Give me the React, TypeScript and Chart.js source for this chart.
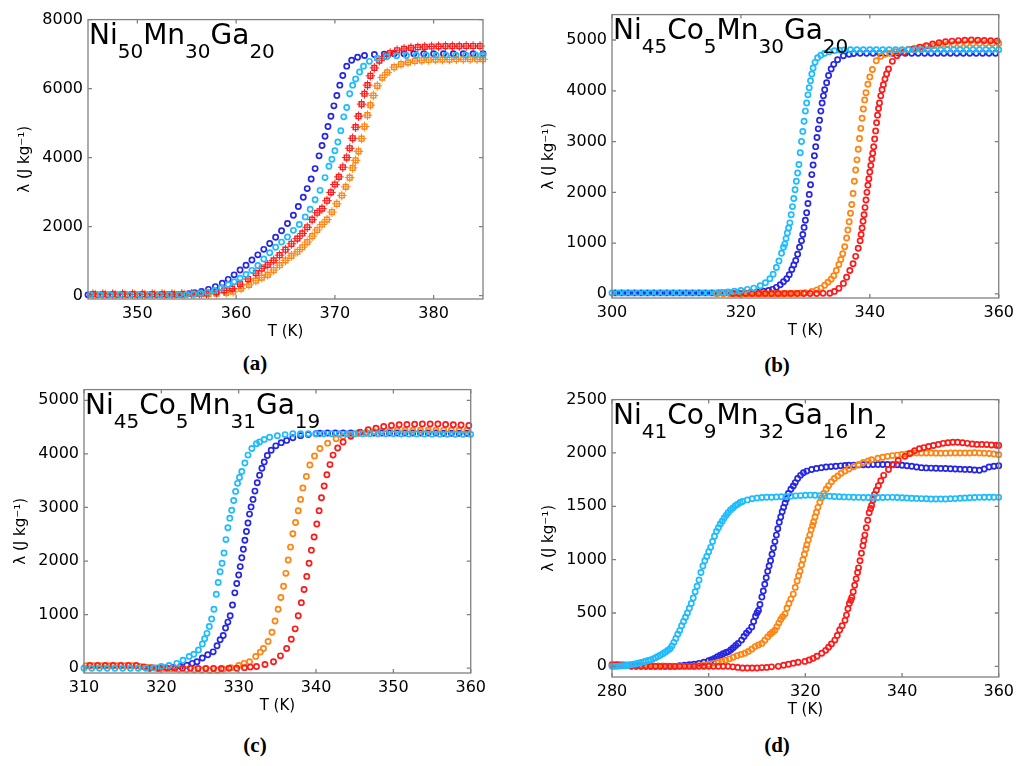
import { useEffect, useRef } from "react";
import { Chart, registerables } from "chart.js";
import type { Plugin } from "chart.js";

Chart.register(...registerables);

type Pt = [number, number];

const RED = "#ff1a1a";
const ORANGE = "#ff8412";
const BLUE = "#2626e6";
const CYAN = "#1ebcff";

// (a) Ni50Mn30Ga20, T in K, lambda in J/kg
const aXTicks = [350, 360, 370, 380];
const aYTicks = [0, 2000, 4000, 6000, 8000];
const aFormula: [string, string][] = [["Ni", "50"], ["Mn", "30"], ["Ga", "20"]];
const aBlue: Pt[] = [
  [345, 20], [346, 20], [347, 20], [348, 20], [349, 20], [350, 20], [351, 20], [352, 20], [353, 22], [354, 28],
  [354.6, 38], [355.2, 55], [355.8, 80], [356.5, 120], [357.2, 180], [357.9, 260], [358.6, 360], [359.2, 470],
  [359.8, 600], [360.4, 740], [361, 880], [361.6, 1030], [362.2, 1180], [362.8, 1340], [363.4, 1510], [364, 1690],
  [364.6, 1880], [365.2, 2090], [365.8, 2330], [366.3, 2580], [366.8, 2850], [367.2, 3100], [367.6, 3380], [368, 3680],
  [368.4, 4050], [368.7, 4350], [369, 4620], [369.3, 4900], [369.6, 5200], [369.9, 5500], [370.2, 5800], [370.5, 6100],
  [370.8, 6380], [371.2, 6650], [371.7, 6820], [372.3, 6910], [373, 6960], [374, 6990], [375, 7000], [376, 7010],
  [377, 7010], [378, 7010], [379, 7010], [380, 7010], [381, 7010], [382, 7010], [383, 7010], [384, 7010], [385, 7010],
];
const aCyan: Pt[] = [
  [345.25, 20], [346.25, 20], [347.25, 20], [348.25, 20], [349.25, 20], [350.25, 20], [351.25, 20], [352.25, 20],
  [353.25, 22], [354.25, 26], [355, 30], [355.7, 45], [356.4, 65], [357.1, 100], [357.8, 150], [358.5, 230],
  [359.2, 320], [359.8, 400], [360.4, 500], [361, 610], [361.6, 730], [362.2, 870], [362.8, 1060], [363.4, 1240],
  [364, 1400], [364.6, 1550], [365.2, 1700], [365.8, 1890], [366.4, 2060], [367, 2280], [367.5, 2500], [368, 2780],
  [368.5, 3050], [369, 3420], [369.4, 3750], [369.7, 3950], [370, 4200], [370.3, 4450], [370.6, 4780], [370.9, 5180],
  [371.2, 5450], [371.5, 5850], [371.8, 6100], [372.1, 6280], [372.5, 6480], [372.9, 6650], [373.5, 6790], [374.3, 6880],
  [375.25, 6920], [376.25, 6950], [377.25, 6960], [378.25, 6970], [379.25, 6970], [380.25, 6970], [381.25, 6970],
  [382.25, 6970], [383.25, 6975], [384.25, 6975], [385, 6975],
];
const aRed: Pt[] = [
  [345.5, 40], [346.5, 40], [347.5, 40], [348.5, 40], [349.5, 40], [350.5, 40], [351.5, 40], [352.5, 40], [353.5, 42],
  [354.5, 45], [355.5, 50], [356.3, 55], [357, 60], [358, 100], [358.8, 150], [359.6, 200], [360.4, 330], [361.2, 480],
  [362, 650], [362.6, 780], [363.2, 890], [363.8, 1020], [364.4, 1170], [365, 1330], [365.6, 1500], [366.2, 1650],
  [366.7, 1800], [367.2, 1980], [367.7, 2200], [368.2, 2400], [368.7, 2520], [369.2, 2750], [369.6, 2990], [370, 3220],
  [370.4, 3440], [370.8, 3720], [371.2, 4000], [371.5, 4270], [371.8, 4560], [372.1, 4880], [372.4, 5200], [372.7, 5550],
  [373, 5850], [373.3, 6100], [373.6, 6370], [374, 6600], [374.5, 6810], [375, 6930], [375.6, 7030], [376.3, 7110],
  [377, 7150], [377.7, 7180], [378.4, 7200], [379.1, 7210], [379.8, 7220], [380.5, 7225], [381.2, 7230], [381.9, 7230],
  [382.6, 7230], [383.3, 7235], [384, 7235], [384.7, 7235],
];
const aOrange: Pt[] = [
  [345.75, 30], [346.75, 30], [347.75, 30], [348.75, 30], [349.75, 30], [350.75, 30], [351.75, 30], [352.75, 30],
  [353.75, 30], [354.75, 32], [355.75, 35], [356.5, 38], [357.2, 42], [358, 55], [359, 80], [359.7, 110], [360.5, 200],
  [361.3, 310], [362, 430], [362.6, 520], [363.2, 600], [363.8, 740], [364.4, 880], [365, 1020], [365.6, 1150],
  [366.2, 1270], [366.7, 1400], [367.2, 1550], [367.7, 1720], [368.2, 1900], [368.7, 2060], [369.2, 2200], [369.7, 2420],
  [370.2, 2660], [370.7, 2900], [371.1, 3150], [371.5, 3420], [371.8, 3700], [372.1, 3920], [372.4, 4180], [372.7, 4550],
  [373, 4900], [373.3, 5230], [373.6, 5520], [373.9, 5800], [374.3, 6080], [374.8, 6320], [375.3, 6470], [376, 6620],
  [376.7, 6710], [377.4, 6760], [378.1, 6800], [378.8, 6820], [379.5, 6830], [380.2, 6840], [380.9, 6840], [381.6, 6840],
  [382.3, 6850], [383, 6850], [383.7, 6850], [384.4, 6850], [385, 6850],
];

// (b) Ni45Co5Mn30Ga20
const bXTicks = [300, 320, 340, 360];
const bYTicks = [0, 1000, 2000, 3000, 4000, 5000];
const bFormula: [string, string][] = [["Ni", "45"], ["Co", "5"], ["Mn", "30"], ["Ga", "20"]];
const bCyan: Pt[] = [
  [300, 20], [301, 20], [302, 20], [303, 20], [304, 20], [305, 20], [306, 20], [307, 20], [308, 20], [309, 20],
  [310, 20], [311, 20], [312, 20], [313, 20], [314, 20], [315, 20], [316, 20], [317, 30], [318, 40], [319, 55],
  [320, 70], [321, 90], [322, 115], [323, 160], [323.8, 220], [324.5, 300], [325, 390], [325.5, 520], [325.9, 650],
  [326.3, 800], [326.6, 920], [326.8, 981], [327, 1090], [327.2, 1200], [327.4, 1300], [327.6, 1400], [327.8, 1560],
  [328, 1720], [328.2, 1880], [328.4, 2050], [328.6, 2220], [328.8, 2380], [329, 2550], [329.2, 2780], [329.4, 3000],
  [329.6, 3200], [329.8, 3400], [330, 3600], [330.2, 3760], [330.4, 3920], [330.6, 4060], [330.8, 4200], [331, 4330],
  [331.2, 4450], [331.5, 4560], [331.9, 4650], [332.4, 4700], [333, 4740], [333.7, 4770], [334.5, 4790], [335.3, 4800],
  [336, 4805], [337, 4810], [338, 4810], [339, 4810], [340, 4810], [341, 4810], [342, 4810], [343, 4810], [344, 4810],
  [345, 4810], [346, 4810], [347, 4810], [348, 4810], [349, 4810], [350, 4810], [351, 4810], [352, 4810], [353, 4810],
  [354, 4810], [355, 4810], [356, 4810], [357, 4810], [358, 4810], [359, 4810], [360, 4810],
];
const bBlue: Pt[] = [
  [300.5, 20], [301.5, 20], [302.5, 20], [303.5, 20], [304.5, 20], [305.5, 20], [306.5, 20], [307.5, 20], [308.5, 20],
  [309.5, 20], [310.5, 20], [311.5, 20], [312.5, 20], [313.5, 20], [314.5, 20], [315.5, 20], [316.5, 20], [317.5, 20],
  [318.5, 20], [319.5, 20], [320.5, 25], [321.5, 30], [322.5, 40], [323.5, 55], [324.3, 70], [324.9, 90], [325.5, 130],
  [326.1, 180], [326.6, 240], [327.1, 300], [327.5, 380], [327.9, 480], [328.2, 570], [328.5, 660], [328.8, 780],
  [329.1, 920], [329.4, 1045], [329.6, 1170], [329.8, 1310], [330, 1450], [330.2, 1600], [330.4, 1780], [330.6, 1960],
  [330.8, 2150], [331, 2350], [331.2, 2540], [331.4, 2720], [331.6, 2900], [331.8, 3080], [332, 3250], [332.2, 3420],
  [332.4, 3600], [332.6, 3760], [332.8, 3900], [333, 4020], [333.3, 4160], [333.6, 4300], [334, 4430], [334.4, 4520],
  [335, 4610], [335.9, 4690], [336.8, 4720], [337.5, 4735], [338.5, 4740], [339.5, 4740], [340.5, 4740], [341.5, 4740],
  [342.5, 4740], [343.5, 4740], [344.5, 4740], [345.5, 4740], [346.5, 4740], [347.5, 4740], [348.5, 4740], [349.5, 4740],
  [350.5, 4740], [351.5, 4740], [352.5, 4740], [353.5, 4740], [354.5, 4740], [355.5, 4740], [356.5, 4740], [357.5, 4740],
  [358.5, 4740], [359.5, 4740],
];
const bOrange: Pt[] = [
  [316.25, 5], [317.25, 5], [318.25, 5], [319.25, 5], [320.25, 5], [321.25, 5], [322.25, 5], [323.25, 5], [324.25, 5],
  [325.25, 5], [326.25, 5], [327.25, 8], [328.25, 12], [329.25, 18], [330, 25], [331, 50], [331.8, 80], [332.4, 115],
  [333, 170], [333.5, 230], [334, 290], [334.4, 360], [334.8, 460], [335.2, 580], [335.5, 680], [335.8, 790],
  [336.1, 930], [336.4, 1100], [336.6, 1260], [336.8, 1420], [337, 1590], [337.2, 1760], [337.4, 1980], [337.6, 2220],
  [337.8, 2440], [338, 2640], [338.2, 2850], [338.4, 3060], [338.6, 3260], [338.8, 3460], [339, 3640], [339.2, 3820],
  [339.4, 3960], [339.7, 4130], [340, 4270], [340.4, 4420], [341, 4590], [341.7, 4680], [342.4, 4720], [343.1, 4740],
  [344, 4770], [345, 4800], [346, 4820], [347, 4840], [348, 4860], [349, 4880], [350, 4890], [351, 4900], [352, 4910],
  [353, 4915], [354, 4920], [355, 4925], [356, 4930], [357, 4930], [358, 4930], [359, 4930], [360, 4930],
];
const bRed: Pt[] = [
  [318.75, 10], [319.75, 10], [320.75, 10], [321.75, 10], [322.75, 10], [323.75, 10], [324.75, 10], [325.75, 10],
  [326.75, 10], [327.75, 10], [328.75, 10], [329.75, 10], [330.75, 10], [331.75, 10], [332.75, 12], [333.8, 15],
  [334.5, 50], [335.2, 110], [335.9, 207], [336.4, 330], [336.9, 460], [337.4, 594], [337.8, 740], [338.2, 900],
  [338.5, 1045], [338.65, 1170], [338.8, 1300], [338.95, 1430], [339.1, 1561], [339.25, 1700], [339.4, 1850],
  [339.55, 2000], [339.7, 2142], [339.85, 2270], [340, 2400], [340.15, 2530], [340.3, 2657], [340.45, 2770],
  [340.6, 2900], [340.75, 3050], [340.9, 3210], [341.05, 3370], [341.2, 3520], [341.35, 3650], [341.5, 3760],
  [341.7, 3900], [341.9, 4020], [342.1, 4120], [342.35, 4230], [342.6, 4330], [342.9, 4431], [343.5, 4580],
  [344.2, 4689], [345.3, 4760], [346.7, 4818], [347.75, 4860], [348.75, 4890], [349.75, 4920], [350.75, 4945],
  [351.75, 4965], [352.75, 4978], [353.75, 4988], [354.75, 4995], [355.75, 5000], [356.75, 4995], [357.75, 4990],
  [358.75, 4985], [359.75, 4980],
];

// (c) Ni45Co5Mn31Ga19
const cXTicks = [310, 320, 330, 340, 350, 360];
const cYTicks = [0, 1000, 2000, 3000, 4000, 5000];
const cFormula: [string, string][] = [["Ni", "45"], ["Co", "5"], ["Mn", "31"], ["Ga", "19"]];
const cCyan: Pt[] = [
  [310, 0], [311, 0], [312, 0], [313, 0], [314, 0], [315, 0], [316, 0], [317, 0], [318, 0], [319, 5], [320, 30],
  [321, 50], [322, 90], [322.8, 150], [323.6, 220], [324.2, 260], [324.8, 340], [325.3, 450], [325.6, 551],
  [325.9, 650], [326.2, 780], [326.5, 918], [326.8, 1100], [327.1, 1380], [327.35, 1600], [327.6, 1800],
  [327.85, 1960], [328.1, 2150], [328.35, 2400], [328.6, 2620], [328.85, 2800], [329.1, 2950], [329.35, 3130],
  [329.6, 3300], [329.85, 3450], [330.1, 3560], [330.4, 3672], [330.8, 3830], [331.2, 3977], [331.7, 4100],
  [332.3, 4190], [332.7, 4223], [333.3, 4270], [334, 4310], [335, 4340], [336, 4360], [337, 4375], [338, 4375],
  [339, 4375], [340, 4375], [341, 4375], [342, 4375], [343, 4375], [344, 4375], [345, 4375], [346, 4375], [347, 4375],
  [348, 4375], [349, 4375], [350, 4375], [351, 4372], [352, 4370], [353, 4370], [354, 4370], [355, 4368], [356, 4368],
  [357, 4366], [358, 4366], [359, 4365], [360, 4365],
];
const cBlue: Pt[] = [
  [318.5, 0], [319.5, 0], [320.5, 5], [321.5, 15], [322.5, 30], [323.3, 55], [324, 90], [324.6, 121], [325.3, 190],
  [326, 250], [326.7, 305], [327.2, 420], [327.6, 530], [328, 611], [328.3, 750], [328.6, 860], [328.9, 979],
  [329.2, 1180], [329.5, 1406], [329.75, 1580], [330, 1740], [330.2, 1896], [330.4, 2060], [330.6, 2220],
  [330.8, 2387], [331, 2550], [331.2, 2710], [331.4, 2876], [331.6, 3010], [331.85, 3150], [332.1, 3305],
  [332.4, 3460], [332.7, 3600], [333, 3733], [333.3, 3850], [333.7, 3970], [334.2, 4069], [334.8, 4150],
  [335.5, 4210], [336.2, 4252], [337, 4300], [338, 4340], [339, 4360], [340, 4375], [340.5, 4385], [341.5, 4390],
  [342.5, 4390], [343.5, 4390], [344.5, 4390], [345.5, 4390], [346.5, 4390], [347.5, 4390], [348.5, 4390],
  [349.5, 4390], [350.5, 4390], [351.5, 4390], [352.5, 4390], [353.5, 4390], [354.5, 4390], [355.5, 4390],
  [356.5, 4385], [357.5, 4385], [358.5, 4385], [359.5, 4385],
];
const cOrange: Pt[] = [
  [310.25, 45], [311.25, 45], [312.25, 45], [313.25, 45], [314.25, 45], [315.25, 45], [316.25, 45], [317.25, 30],
  [318.25, 15], [319.25, 5], [320.25, 0], [321.25, -10], [322.25, -20], [323.25, -25], [324.25, -30], [325.25, -35],
  [326.25, -40], [327.25, -40], [328, -20], [329, 10], [330, 50], [330.7, 90], [331.4, 121], [332.2, 220],
  [332.8, 300], [333.2, 367], [333.8, 500], [334.3, 672], [334.7, 880], [335.1, 1101], [335.45, 1320], [335.8, 1529],
  [336.1, 1770], [336.4, 2019], [336.7, 2260], [337, 2508], [337.35, 2720], [337.7, 2938], [338, 3150], [338.3, 3365],
  [338.75, 3580], [339.2, 3793], [339.8, 3960], [340.5, 4100], [341.5, 4200], [342.6, 4283], [343.5, 4330],
  [344.5, 4360], [345.5, 4385], [346.5, 4400], [347.5, 4415], [348.5, 4425], [349.5, 4430], [350.5, 4440],
  [351.5, 4440], [352.5, 4440], [353.5, 4440], [354.5, 4440], [355.5, 4440], [356.5, 4440], [357.5, 4440],
  [358.5, 4440], [359.5, 4440],
];
const cRed: Pt[] = [
  [310.75, 50], [311.75, 50], [312.75, 50], [313.75, 50], [314.75, 50], [315.75, 50], [316.75, 50], [317.75, 25],
  [318.75, 10], [319.75, 0], [320.75, 0], [321.75, 0], [322.75, 0], [323.75, 0], [324.75, -5], [325.75, -5],
  [326.75, -5], [327.75, -5], [328.75, 0], [329.75, 0], [330.75, 10], [331.5, 20], [332.3, 30], [333.4, 70],
  [334.5, 121], [335.4, 230], [336.2, 367], [336.8, 540], [337.3, 734], [337.7, 980], [338.1, 1223], [338.45, 1470],
  [338.8, 1713], [339.1, 1960], [339.4, 2203], [339.75, 2450], [340.1, 2692], [340.4, 2940], [340.7, 3182],
  [341.05, 3400], [341.4, 3610], [341.8, 3800], [342.2, 3977], [342.8, 4110], [343.5, 4223], [344.5, 4330],
  [345.7, 4406], [346.75, 4450], [347.75, 4480], [348.75, 4510], [349.75, 4530], [350.75, 4545], [351.75, 4550],
  [352.75, 4555], [353.75, 4560], [354.75, 4560], [355.75, 4560], [356.75, 4550], [357.75, 4545], [358.75, 4540],
  [359.75, 4530],
];

// (d) Ni41Co9Mn32Ga16In2
const dXTicks = [280, 300, 320, 340, 360];
const dYTicks = [0, 500, 1000, 1500, 2000, 2500];
const dFormula: [string, string][] = [["Ni", "41"], ["Co", "9"], ["Mn", "32"], ["Ga", "16"], ["In", "2"]];
const dCyan: Pt[] = [
  [280, 0], [280.5, 0], [281, 0], [281.5, 2], [282, 4], [282.5, 6], [283, 8], [283.5, 12], [284, 16], [284.5, 20],
  [285, 25], [285.5, 30], [286, 36], [286.5, 42], [287, 48], [287.5, 54], [288, 60], [288.5, 70], [289, 80],
  [289.5, 92], [290, 105], [290.5, 118], [291, 132], [291.5, 148], [292, 165], [292.4, 190], [292.8, 225],
  [293.2, 262], [293.6, 300], [294, 335], [294.4, 380], [294.8, 420], [295.2, 460], [295.6, 500], [296, 545],
  [296.4, 590], [296.8, 640], [297.2, 700], [297.6, 750], [298, 810], [298.4, 880], [298.8, 940], [299.2, 990],
  [299.6, 1030], [300, 1075], [300.4, 1115], [300.8, 1170], [301.2, 1220], [301.6, 1265], [302, 1300], [302.4, 1335],
  [302.8, 1360], [303.2, 1390], [303.6, 1415], [304, 1440], [304.5, 1465], [305, 1485], [305.5, 1505], [306, 1520],
  [306.5, 1535], [307, 1545], [308, 1560], [309, 1570], [310, 1578], [311, 1582], [312, 1585], [313, 1585],
  [314, 1588], [315, 1590], [316, 1592], [317, 1595], [318, 1598], [319, 1600], [320, 1603], [321, 1605], [322, 1603],
  [323, 1600], [324, 1598], [325, 1595], [326, 1592], [327, 1590], [328, 1588], [329, 1586], [330, 1585], [331, 1584],
  [332, 1583], [333, 1582], [334, 1582], [335, 1582], [336, 1583], [337, 1584], [338, 1584], [339, 1582], [340, 1580],
  [341, 1578], [342, 1576], [343, 1574], [344, 1572], [345, 1570], [346, 1568], [347, 1568], [348, 1568], [349, 1568],
  [350, 1570], [351, 1572], [352, 1575], [353, 1578], [354, 1580], [355, 1582], [356, 1584], [357, 1585], [358, 1585],
  [359, 1585], [360, 1584],
];
const dBlue: Pt[] = [
  [284, 0], [285, 0], [286, 0], [287, 0], [288, 0], [289, 0], [290, 0], [291, 0], [292, 0], [293, 0], [294, 5],
  [295, 10], [296, 15], [297, 20], [298, 28], [299, 38], [300, 52], [300.6, 62], [301.2, 75], [301.8, 90], [302.4, 105],
  [303, 118], [303.6, 130], [304.1, 138], [304.6, 155], [305.1, 175], [305.6, 195], [306.1, 215], [306.8, 246],
  [307.3, 280], [307.8, 310], [308.3, 335], [308.9, 369], [309.3, 420], [309.7, 470], [310, 500], [310.3, 523],
  [310.6, 580], [311, 650], [311.3, 707], [311.6, 770], [311.9, 830], [312.2, 890], [312.5, 940], [312.8, 990],
  [313.1, 1050], [313.4, 1110], [313.7, 1169], [314, 1230], [314.3, 1290], [314.6, 1350], [314.9, 1400], [315.2, 1450],
  [315.5, 1490], [315.8, 1530], [316.1, 1568], [316.5, 1620], [317, 1660], [317.5, 1690], [317.9, 1722], [318.4, 1760],
  [319, 1790], [319.6, 1815], [320.3, 1830], [321.3, 1845], [322.3, 1855], [323.3, 1862], [324.3, 1868], [325.3, 1872],
  [326.3, 1876], [327.3, 1879], [328.2, 1882], [329, 1884], [330, 1886], [331, 1888], [332, 1889], [333, 1890],
  [334, 1891], [335, 1892], [336, 1892], [337, 1892], [338, 1891], [339, 1890], [340, 1885], [341, 1880], [342, 1875],
  [343, 1868], [344, 1862], [345, 1860], [346, 1858], [347, 1856], [348, 1855], [349, 1854], [350, 1852], [351, 1850],
  [352, 1848], [353, 1846], [354, 1845], [355, 1840], [356, 1838], [357, 1850], [358, 1868], [359, 1875], [360, 1880],
];
const dOrange: Pt[] = [
  [280.5, 15], [281.5, 15], [282.5, 15], [283.5, 14], [284.5, 12], [285.5, 10], [286.5, 8], [287.5, 6], [288.5, 5],
  [289.5, 4], [290.5, 3], [291.5, 2], [292.5, 1], [293.5, 0], [294.5, 0], [295.5, 0], [296.5, 0], [297.2, 0], [298, 5],
  [299, 12], [300, 20], [301, 28], [302, 38], [302.7, 46], [303.5, 58], [304.3, 70], [305.1, 85], [305.9, 100],
  [306.7, 112], [307.5, 123], [308.2, 140], [308.9, 160], [309.6, 185], [310.3, 200], [311, 215], [311.6, 245],
  [312.2, 275], [312.7, 300], [313.2, 320], [313.7, 338], [314.1, 370], [314.5, 405], [314.9, 440], [315.3, 465],
  [315.8, 492], [316.2, 545], [316.6, 590], [317, 630], [317.5, 677], [317.9, 740], [318.3, 800], [318.6, 850],
  [318.9, 892], [319.2, 950], [319.5, 1000], [319.8, 1050], [320.1, 1100], [320.3, 1138], [320.6, 1185], [320.9, 1230],
  [321.2, 1280], [321.5, 1320], [321.7, 1353], [322, 1400], [322.3, 1445], [322.6, 1490], [323, 1538], [323.4, 1580],
  [323.8, 1620], [324.3, 1660], [324.8, 1692], [325.4, 1730], [326, 1760], [326.7, 1785], [327.4, 1810], [328.2, 1830],
  [329, 1850], [330, 1870], [331, 1890], [332, 1910], [333, 1925], [333.7, 1937], [335, 1950], [336, 1960], [337, 1968],
  [338, 1975], [339, 1980], [340, 1985], [341, 1990], [342, 1999], [343, 2000], [344, 2000], [345, 2000], [346, 2000],
  [347, 1998], [348, 1998], [349, 1998], [350, 2000], [351, 2000], [352, 2000], [353, 2000], [354, 2000], [355, 2002],
  [356, 2000], [357, 1998], [358, 1995], [359, 1990], [360, 1984],
];
const dRed: Pt[] = [
  [280, 15], [281, 15], [282, 12], [283, 10], [284, 8], [285, 5], [286, 3], [287, 2], [288, 1], [289, 0], [290, 0],
  [291, 0], [292, 0], [293, 0], [294, 0], [295, 0], [296, 0], [297, 0], [298, 0], [299, 0], [300, 0], [301, 0],
  [302, 0], [303, 0], [304, 0], [305, -5], [306, -10], [307, -15], [308, -15], [309, -15], [310, -15], [311, -12],
  [312, -10], [313, -5], [314.4, 0], [315.5, 10], [316.5, 20], [317.5, 30], [318.5, 38], [319.9, 46], [320.8, 60],
  [321.6, 75], [322.4, 95], [323.4, 123], [324.2, 150], [324.8, 180], [325.4, 210], [326.1, 246], [326.6, 290],
  [327.1, 340], [327.6, 380], [328.2, 431], [328.5, 480], [328.8, 540], [329.1, 590], [329.4, 620], [329.6, 646],
  [329.9, 700], [330.2, 760], [330.5, 820], [330.8, 880], [331, 923], [331.3, 990], [331.6, 1060], [331.9, 1130],
  [332.1, 1180], [332.3, 1230], [332.6, 1300], [332.9, 1370], [333.2, 1440], [333.5, 1480], [333.7, 1507], [334, 1560],
  [334.3, 1610], [334.7, 1650], [335.1, 1692], [335.6, 1740], [336.2, 1790], [337.2, 1845], [338.2, 1890], [339.2, 1930],
  [340.6, 1968], [341.6, 1995], [342.6, 2020], [343.6, 2040], [344.5, 2050], [345.5, 2061], [346.5, 2070], [347.5, 2080],
  [348.5, 2090], [349.5, 2095], [350.5, 2100], [351.5, 2100], [352.5, 2095], [353.5, 2090], [354.5, 2085], [355.5, 2080],
  [356.5, 2080], [357.5, 2078], [358.5, 2075], [359.5, 2072], [360, 2070],
];

const FONT = '"DejaVu Sans", sans-serif';
const AXIS_W = 84;
const AXIS_H = 46;
const PAD_T = 10;
const PAD_R = 20;

interface Series {
  data: Pt[];
  color: string;
  marker: "circle" | "rect";
  bars?: boolean;
}

interface PanelProps {
  box: { l: number; t: number; r: number; b: number };
  xRange: [number, number];
  yRange: [number, number];
  xTicks: number[];
  yTicks: number[];
  series: Series[];
  formula: [string, string][];
  caption: string;
  captionAt: [number, number];
}

function Panel({ box, xRange, yRange, xTicks, yTicks, series, formula, caption, captionAt }: PanelProps) {
  const canvasRef = useRef<HTMLCanvasElement>(null);

  useEffect(() => {
    if (!canvasRef.current) return;

    // box, inward ticks on all four sides, and the alloy formula
    const frame: Plugin<"scatter"> = {
      id: "frame",
      afterDraw(chart) {
        const { ctx, chartArea } = chart;
        const { left, right, top, bottom } = chartArea;
        const x = chart.scales.x;
        const y = chart.scales.y;
        ctx.save();
        ctx.strokeStyle = "#808080";
        ctx.lineWidth = 1.3;
        ctx.strokeRect(left, top, right - left, bottom - top);
        ctx.beginPath();
        for (const v of xTicks) {
          const px = x.getPixelForValue(v);
          ctx.moveTo(px, bottom);
          ctx.lineTo(px, bottom - 4);
          ctx.moveTo(px, top);
          ctx.lineTo(px, top + 4);
        }
        for (const v of yTicks) {
          const py = y.getPixelForValue(v);
          ctx.moveTo(left, py);
          ctx.lineTo(left + 4, py);
          ctx.moveTo(right, py);
          ctx.lineTo(right - 4, py);
        }
        ctx.stroke();

        ctx.fillStyle = "#000";
        ctx.textAlign = "left";
        ctx.textBaseline = "alphabetic";
        let cx = left + 1;
        const base = top + 24;
        for (const [el, n] of formula) {
          ctx.font = `28px ${FONT}`;
          ctx.fillText(el, cx, base);
          cx += ctx.measureText(el).width;
          ctx.font = `20px ${FONT}`;
          ctx.fillText(n, cx, base + 14);
          cx += ctx.measureText(n).width;
        }
        ctx.restore();
      },
    };

    const datasets: any[] = [];
    for (const s of series) {
      const pts = s.data.map(([x, y]) => ({ x, y }));
      datasets.push({
        data: pts,
        pointStyle: s.marker,
        pointRadius: s.marker === "rect" ? 3.4 : 2.6,
        pointBorderWidth: s.marker === "rect" ? 1.4 : 1.7,
        pointBorderColor: s.color,
        pointBackgroundColor: "rgba(0,0,0,0)",
        borderColor: s.color,
        showLine: false,
        clip: false,
      });
      if (s.bars) {
        datasets.push({
          data: pts,
          pointStyle: "cross",
          pointRadius: 4.8,
          pointBorderWidth: 1,
          pointBorderColor: s.color,
          pointBackgroundColor: "rgba(0,0,0,0)",
          showLine: false,
          clip: false,
        });
      }
    }

    const chart = new Chart(canvasRef.current, {
      type: "scatter",
      data: { datasets },
      options: {
        responsive: false,
        animation: false,
        events: [],
        layout: { padding: { top: PAD_T, right: PAD_R, left: 0, bottom: 0 } },
        plugins: { legend: { display: false }, tooltip: { enabled: false } },
        scales: {
          x: {
            type: "linear",
            min: xRange[0],
            max: xRange[1],
            afterBuildTicks: (s: any) => {
              s.ticks = xTicks.map((value) => ({ value }));
            },
            afterFit: (s: any) => {
              s.height = AXIS_H;
            },
            grid: { display: false, drawTicks: false },
            border: { display: false },
            ticks: {
              color: "#000",
              font: { family: FONT, size: 16 },
              padding: 5,
              maxRotation: 0,
              autoSkip: false,
              callback: (v: any) => String(v),
            },
            title: {
              display: true,
              text: "T (K)",
              color: "#000",
              font: { family: FONT, size: 15 },
              padding: { top: 0, bottom: 4 },
            },
          },
          y: {
            type: "linear",
            min: yRange[0],
            max: yRange[1],
            afterBuildTicks: (s: any) => {
              s.ticks = yTicks.map((value) => ({ value }));
            },
            afterFit: (s: any) => {
              s.width = AXIS_W;
            },
            grid: { display: false, drawTicks: false },
            border: { display: false },
            ticks: {
              color: "#000",
              font: { family: FONT, size: 16 },
              padding: 5,
              autoSkip: false,
              callback: (v: any) => String(v),
            },
            title: {
              display: true,
              text: "λ (J kg⁻¹)",
              color: "#000",
              font: { family: FONT, size: 15 },
              padding: { top: 12, bottom: 0 },
            },
          },
        },
      },
      plugins: [frame],
    });

    return () => {
      chart.destroy();
    };
  }, []);

  const width = box.r - box.l + AXIS_W + PAD_R;
  const height = box.b - box.t + PAD_T + AXIS_H;

  return (
    <>
      <canvas
        ref={canvasRef}
        width={width}
        height={height}
        style={{ position: "absolute", left: box.l - AXIS_W, top: box.t - PAD_T }}
      />
      <div
        style={{
          position: "absolute",
          left: captionAt[0] - 40,
          top: captionAt[1] - 12,
          width: 80,
          lineHeight: "24px",
          textAlign: "center",
          fontFamily: '"Liberation Serif", serif',
          fontWeight: "bold",
          fontSize: 21,
          color: "#000",
        }}
      >
        ({caption})
      </div>
    </>
  );
}

export default function App() {
  return (
    <div style={{ position: "absolute", left: 0, top: 0, width: 1024, height: 766, background: "#fff", overflow: "hidden" }}>
      <Panel
        box={{ l: 88, t: 15, r: 483, b: 299 }}
        xRange={[345, 385]}
        yRange={[-100, 8000]}
        xTicks={aXTicks}
        yTicks={aYTicks}
        series={[
          { data: aCyan, color: CYAN, marker: "circle" },
          { data: aRed, color: RED, marker: "rect", bars: true },
          { data: aOrange, color: ORANGE, marker: "rect", bars: true },
          { data: aBlue, color: BLUE, marker: "circle" },
        ]}
        formula={aFormula}
        caption="a"
        captionAt={[255, 363]}
      />
      <Panel
        box={{ l: 612, t: 10, r: 999, b: 298 }}
        xRange={[300, 360]}
        yRange={[-80, 5500]}
        xTicks={bXTicks}
        yTicks={bYTicks}
        series={[
          { data: bCyan, color: CYAN, marker: "circle" },
          { data: bRed, color: RED, marker: "circle" },
          { data: bOrange, color: ORANGE, marker: "circle" },
          { data: bBlue, color: BLUE, marker: "circle" },
        ]}
        formula={bFormula}
        caption="b"
        captionAt={[777, 365]}
      />
      <Panel
        box={{ l: 84, t: 385, r: 471, b: 673 }}
        xRange={[310, 360]}
        yRange={[-90, 5200]}
        xTicks={cXTicks}
        yTicks={cYTicks}
        series={[
          { data: cCyan, color: CYAN, marker: "circle" },
          { data: cRed, color: RED, marker: "circle" },
          { data: cOrange, color: ORANGE, marker: "circle" },
          { data: cBlue, color: BLUE, marker: "circle" },
        ]}
        formula={cFormula}
        caption="c"
        captionAt={[255, 745]}
      />
      <Panel
        box={{ l: 612, t: 395, r: 999, b: 677 }}
        xRange={[280, 360]}
        yRange={[-100, 2500]}
        xTicks={dXTicks}
        yTicks={dYTicks}
        series={[
          { data: dCyan, color: CYAN, marker: "circle" },
          { data: dRed, color: RED, marker: "circle" },
          { data: dOrange, color: ORANGE, marker: "circle" },
          { data: dBlue, color: BLUE, marker: "circle" },
        ]}
        formula={dFormula}
        caption="d"
        captionAt={[777, 745]}
      />
    </div>
  );
}
